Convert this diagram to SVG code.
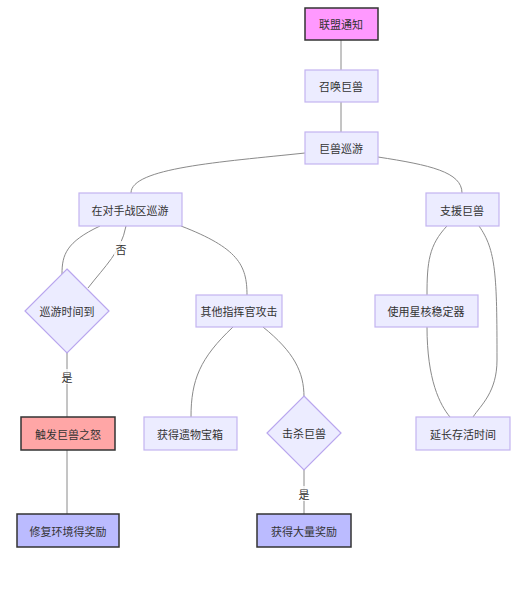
<svg xmlns="http://www.w3.org/2000/svg" width="520" height="612" viewBox="0 0 520 612">
<style>
.n{fill:#ECECFF;stroke:#C3B4F0;stroke-width:1.2}
.d{fill:#ECECFF;stroke:#B9A6EE;stroke-width:1.2}
.k{stroke:#333;stroke-width:1.5}
.t{font-family:"Noto Sans CJK SC","Noto Sans",sans-serif;font-size:11px;fill:#333;text-anchor:middle;dominant-baseline:central}
.e{fill:none;stroke:#8a8a8a;stroke-width:1}
.lb{fill:#fff;opacity:0.8}
</style>
<rect width="520" height="612" fill="#fff"/>
<g id="edges">
<path class="e" d="M341,40 V70"/>
<path class="e" d="M341,102 V132"/>
<path class="e" d="M305,153 C220,162 131,168 131,193"/>
<path class="e" d="M378,157 C430,165 462,172 462,193"/>
<path class="e" d="M100,226 C66,242 62,255 62,274"/>
<path class="e" d="M88,288 C105,266 121,252 126,226"/>
<path class="e" d="M67,353 V417"/>
<path class="e" d="M67,450 V514"/>
<path class="e" d="M181,226 C238,248 247,265 247,295"/>
<path class="e" d="M233,327 C200,358 191,380 191,417"/>
<path class="e" d="M263,327 C294,352 304,372 304,397"/>
<path class="e" d="M304,470 V514"/>
<path class="e" d="M447,226 C429,245 427,262 427,295"/>
<path class="e" d="M479,226 C496,250 497,275 497,360 C497,392 481,405 473,417"/>
<path class="e" d="M427,327 C427,380 440,405 450,417"/>
<rect class="lb" x="114" y="241" width="13" height="15"/>
<text class="t" x="121" y="249">否</text>
<rect class="lb" x="60" y="369" width="14" height="15"/>
<text class="t" x="67" y="377">是</text>
<rect class="lb" x="297" y="486" width="14" height="15"/>
<text class="t" x="304" y="494">是</text>
</g>
<g id="n1"><rect x="305" y="8" width="73" height="32" fill="#FF99FF" class="k"/><text class="t" x="341" y="24">联盟通知</text></g>
<g id="n2"><rect class="n" x="305" y="70" width="73" height="32"/><text class="t" x="341" y="86">召唤巨兽</text></g>
<g id="n3"><rect class="n" x="305" y="132" width="73" height="32"/><text class="t" x="341" y="148">巨兽巡游</text></g>
<g id="n4"><rect class="n" x="79" y="193" width="103" height="33"/><text class="t" x="130" y="210">在对手战区巡游</text></g>
<g id="n5"><rect class="n" x="426" y="193" width="73" height="33"/><text class="t" x="462" y="210">支援巨兽</text></g>
<g id="n6"><polygon class="d" points="67,269 109,311 67,353 25,311"/><text class="t" x="67" y="311">巡游时间到</text></g>
<g id="n7"><rect class="n" x="196" y="295" width="86" height="32"/><text class="t" x="239" y="311">其他指挥官攻击</text></g>
<g id="n8"><rect class="n" x="375" y="295" width="103" height="32"/><text class="t" x="426" y="311">使用星核稳定器</text></g>
<g id="n9"><rect x="21" y="417" width="94" height="33" fill="#FFA6A6" class="k"/><text class="t" x="68" y="434">触发巨兽之怒</text></g>
<g id="n10"><rect class="n" x="144" y="417" width="93" height="33"/><text class="t" x="190" y="434">获得遗物宝箱</text></g>
<g id="n11"><polygon class="d" points="304,396 341,433 304,470 267,433"/><text class="t" x="304" y="433">击杀巨兽</text></g>
<g id="n12"><rect class="n" x="416" y="417" width="94" height="33"/><text class="t" x="463" y="434">延长存活时间</text></g>
<g id="n13"><rect x="17" y="514" width="102" height="33" fill="#BBBBFF" class="k"/><text class="t" x="68" y="531">修复环境得奖励</text></g>
<g id="n14"><rect x="257" y="514" width="94" height="33" fill="#BBBBFF" class="k"/><text class="t" x="304" y="531">获得大量奖励</text></g>
</svg>
